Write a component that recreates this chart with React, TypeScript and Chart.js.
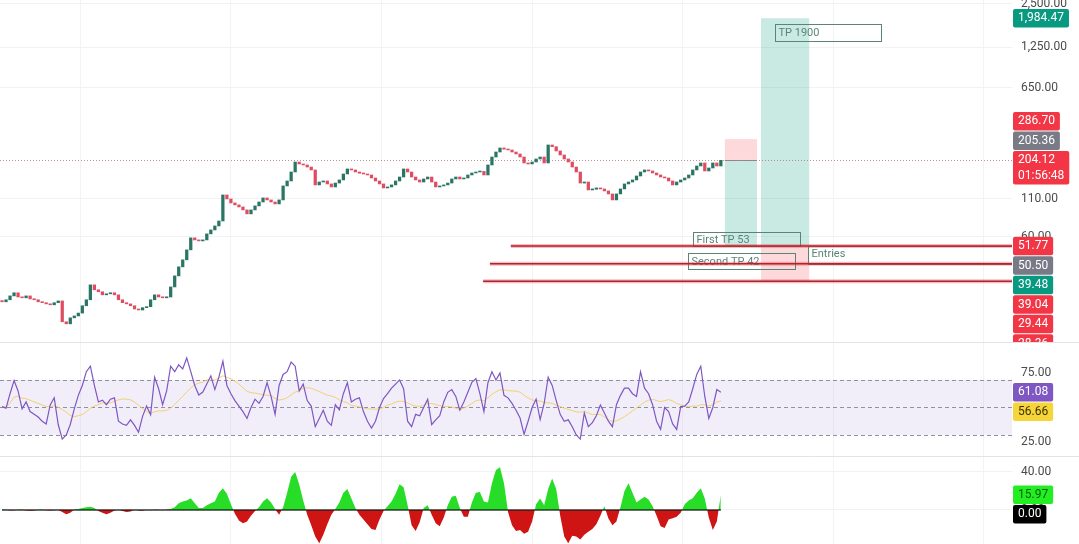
import { useEffect, useRef } from 'react';
import { Chart, registerables } from 'chart.js';

Chart.register(...registerables);

// ---------- data ----------
const firstOpen = 21.6;
const closes = [
  21.2, 21.9, 23.3, 24.5, 22.9, 22.6, 23.3, 22.2, 21.9, 21.2,
  20.9, 20.5, 20.2, 20.9, 21.5, 15.4, 14.9, 16.4, 16.9, 17.7,
  19.9, 21.9, 27.8, 25.7, 24.9, 23.7, 24.1, 24.5, 23.7, 21.9,
  20.9, 20.5, 19.9, 18.9, 18.6, 19.3, 19.6, 21.9, 23.7, 22.9,
  22.6, 22.9, 26.9, 32.1, 37.1, 41.5, 48.7, 59.0, 57.1, 56.2,
  57.1, 62.9, 67.0, 71.4, 77.3, 117.3, 110.0, 103.2, 100.0, 96.8,
  92.3, 86.6, 92.3, 98.4, 104.8, 111.8, 108.3, 104.8, 101.6, 108.3,
  135.5, 146.7, 169.4, 198.7, 192.6, 189.5, 183.4, 175.0, 137.7, 144.3,
  146.7, 139.9, 133.3, 141.9, 149.1, 164.1, 177.8, 175.0, 169.4, 166.0,
  164.1, 161.5, 153.9, 146.7, 139.9, 131.2, 133.3, 137.7, 146.7, 156.3,
  177.8, 169.4, 156.3, 149.1, 144.3, 151.5, 156.3, 144.3, 133.3, 135.5,
  137.7, 141.9, 151.5, 156.3, 151.5, 153.9, 161.5, 166.7, 169.4, 171.0,
  161.5, 189.5, 215.3, 233.3, 248.8, 244.0, 241.0, 233.3, 226.0, 215.3,
  195.7, 192.6, 198.7, 208.6, 215.3, 195.7, 261.0, 254.0, 237.2, 222.4,
  208.6, 198.7, 183.4, 169.4, 141.9, 144.3, 127.1, 128.5, 131.2, 129.1,
  125.1, 119.2, 108.3, 119.2, 129.1, 139.9, 144.3, 149.1, 158.9, 169.4,
  175.0, 172.2, 166.7, 161.5, 156.3, 153.9, 146.7, 137.7, 144.3, 149.1,
  153.9, 161.5, 175.0, 186.5, 195.7, 172.2, 180.6, 195.7, 186.5, 204.12,
];

const rsiValues = [
  50.6, 49.5, 60, 69.5, 62, 49, 54, 47, 45, 43,
  40, 38, 51.8, 57, 37.6, 27, 30, 37.6, 49, 58.8,
  66, 76, 80, 66, 54, 55.3, 52, 56, 57, 40,
  38, 37, 41, 37, 32, 43.5, 51, 44.7, 72, 63.6,
  52, 62, 80, 76, 81, 78, 86, 76, 66, 59,
  61.2, 67, 73, 63, 72, 83.6, 66, 60, 55, 51,
  47, 42, 50, 56, 53, 58, 68, 58, 45, 66,
  74, 76, 83, 80, 62, 67, 55, 51, 36, 42,
  48, 40, 37, 52, 48.2, 60, 68, 54, 56, 57,
  47, 40, 35, 40, 50, 56.5, 60, 64, 67, 70,
  63.6, 40, 36, 45, 44, 50, 56, 37.6, 41, 44,
  54, 61, 63, 58, 48, 54, 61, 68.3, 71, 60,
  47, 68, 76, 70, 75, 58.8, 57, 53, 48, 42.3,
  30.5, 40, 50, 56, 41.2, 52.9, 72, 66, 55, 45,
  40, 41, 36, 30, 27, 46, 36, 39, 44, 51.8,
  46, 40, 36, 52, 58.8, 64, 64, 60, 58, 76,
  64, 60, 52, 40, 34.1, 50, 47, 38, 34, 50.6,
  51, 54, 63.6, 74, 80, 58, 42, 50, 63, 61.08,
];
const rsiMaLength = 14;

const histValues = [
  0.5, 0.3, -0.5, -0.4, 0.3, 0.5, -0.6, -0.8, -0.5, 0.2,
  0.4, -0.3, -0.6, -0.4, 0.2, -2, -4.5, -3, 0.5, 1,
  2, 3, 3.5, 2, -1, -3, -4.5, -3, -0.5, 0.3,
  -1, -2, -1.5, 0.3, -0.5, -0.7, 0.3, -0.4, 0.5, 0.3,
  -0.3, 0.4, 1, 3, 7, 9, 10, 12.3, 7, 2,
  2, 5, 7, 9, 18, 22.8, 17, 6, -4, -11,
  -14, -12, -6, -1, 3, 9, 12.3, 8, 1, -5,
  3, 18, 35, 40, 27, 10, -5, -16, -28, -35,
  -26, -15, -5, 1, 8, 18, 22, 12, 2, -5,
  -10, -15, -20, -21, -10, -1, 4, 9, 17, 27,
  24, 5, -16, -22, -13, 2, 5, -5, -14, -17,
  -8, 5, 14, 15, 2, -7, -7, 8, 18, 19,
  9, 8, 28, 42, 45, 28, -2, -16, -22, -21,
  -25, -23, -12, 6, 12, 5, 22, 33, 22, -6,
  -28, -35, -27, -28, -31, -26, -22.8, -20, -15, -6,
  4, -9, -16, -12, 3, 20, 28, 18, 8, 11,
  14, 11, 4, -6, -17, -19, -10, -8.8, -7, -3,
  6, 10, 12.3, 18, 22.8, 12, -8, -21, -12, 15.97,
];

const priceTicks = [60, 110, 650, 1250, 2500];
const rsiTicks = [25, 75];
const histTicks = [0, 40];
const rsiLevels = [70, 50, 30];
const gridBars = [19.5, 57, 94.5, 132, 169.5, 207, 244.5];
const lastPrice = 204.12;

const shortPosition = { from: 180, to: 188, entry: 205.36, stop: 286.7, target: 51.77 };
const longPosition = { from: 189, to: 201, entry: 51.77, stop: 29.44, target: 1984.47 };
const levelLines = [
  { value: 51.77, from: 126.7 },
  { value: 39.04, from: 121.5 },
  { value: 29.44, from: 119.8 },
];
const noteBoxes = [
  { text: 'TP 1900', from: 192.5, to: 219, top: 1810, bottom: 1378 },
  { text: 'First TP 53', from: 172.1, to: 198.8, top: 65, bottom: 51.77 },
  { text: 'Second TP 42', from: 170.7, to: 197.4, top: 46.3, bottom: 35.9 },
];
const entriesBox = { text: 'Entries', from: 200.6, top: 51.77, bottom: 39.04 };

type AxisLabel = { value: number; lines: string[]; bg: string; fg: string; dir: 'up' | 'down' | 'none' };
const RED = '#f23645';
const GRAY = '#787b86';
const TEAL = '#089981';
const priceAxisLabels: AxisLabel[] = [
  { value: 204.12, lines: ['204.12', '01:56:48'], bg: RED, fg: '#fff', dir: 'none' },
  { value: 205.36, lines: ['205.36'], bg: GRAY, fg: '#fff', dir: 'up' },
  { value: 286.7, lines: ['286.70'], bg: RED, fg: '#fff', dir: 'up' },
  { value: 1984.47, lines: ['1,984.47'], bg: TEAL, fg: '#fff', dir: 'none' },
  { value: 51.77, lines: ['51.77'], bg: RED, fg: '#fff', dir: 'none' },
  { value: 50.5, lines: ['50.50'], bg: GRAY, fg: '#fff', dir: 'down' },
  { value: 39.48, lines: ['39.48'], bg: TEAL, fg: '#fff', dir: 'down' },
  { value: 39.04, lines: ['39.04'], bg: RED, fg: '#fff', dir: 'down' },
  { value: 29.44, lines: ['29.44'], bg: RED, fg: '#fff', dir: 'down' },
  { value: 28.36, lines: ['28.36'], bg: RED, fg: '#fff', dir: 'down' },
];
const rsiAxisLabels: AxisLabel[] = [
  { value: 61.08, lines: ['61.08'], bg: '#7e57c2', fg: '#fff', dir: 'none' },
  { value: 56.66, lines: ['56.66'], bg: '#f5d53a', fg: '#3b3200', dir: 'down' },
];
const histAxisLabels: AxisLabel[] = [
  { value: 15.97, lines: ['15.97'], bg: '#22ee22', fg: '#0b5e0b', dir: 'none' },
  { value: 0, lines: ['0.00'], bg: '#000', fg: '#fff', dir: 'down' },
];

// ---------- styles ----------
const UP = '#2a7564';
const DOWN = '#de4d62';
const PROFIT = 'rgba(8,153,129,0.22)';
const LOSS = 'rgba(242,54,69,0.19)';
const NOTE = '#5a8576';
const FONT = 'Roboto, "Noto Sans", sans-serif';

const fmt = (v: number) =>
  Number(v).toLocaleString('en-US', { minimumFractionDigits: 2, maximumFractionDigits: 2 });

function drawAxisLabels(ctx: CanvasRenderingContext2D, scale: any, labels: AxisLabel[], canvasW: number) {
  const ROW = 19.5;
  const LINE = 16;
  const placed: { top: number; bottom: number }[] = [];
  ctx.save();
  ctx.beginPath();
  ctx.rect(scale.left, scale.top, canvasW - scale.left, scale.bottom - scale.top);
  ctx.clip();
  ctx.font = '12px ' + FONT;
  ctx.textBaseline = 'middle';
  ctx.textAlign = 'left';
  for (const lb of labels) {
    const h = ROW + (lb.lines.length - 1) * LINE - (lb.lines.length > 1 ? 1 : 0);
    const yc = scale.getPixelForValue(lb.value);
    let top = yc - ROW / 2;
    let bottom = top + h;
    let guard = 0;
    let moved = true;
    while (moved && lb.dir !== 'none' && guard < 50) {
      moved = false;
      guard++;
      for (const p of placed) {
        if (top < p.bottom - 0.01 && bottom > p.top + 0.01) {
          if (lb.dir === 'up') {
            bottom = p.top;
            top = bottom - h;
          } else {
            top = p.bottom;
            bottom = top + h;
          }
          moved = true;
        }
      }
    }
    placed.push({ top, bottom });
    const w = Math.max(...lb.lines.map((t) => ctx.measureText(t).width)) + 10;
    const x = scale.left + 1;
    ctx.fillStyle = lb.bg;
    ctx.beginPath();
    (ctx as any).roundRect ? (ctx as any).roundRect(x, top + 0.5, w, h - 1, 2) : ctx.rect(x, top + 0.5, w, h - 1);
    ctx.fill();
    ctx.fillStyle = lb.fg;
    lb.lines.forEach((t, k) => ctx.fillText(t, x + 5, top + ROW / 2 + k * LINE));
  }
  ctx.restore();
}

const overlayPlugin = {
  id: 'tvOverlay',
  beforeDatasetsDraw(chart: any) {
    const { ctx, chartArea: ca, scales } = chart;
    const xs = scales.x;
    const yP = scales.yP;
    const yR = scales.yR;
    const px = (v: number) => xs.getPixelForValue(v);
    const py = (v: number) => yP.getPixelForValue(v);
    ctx.save();

    // RSI band and levels
    const y70 = yR.getPixelForValue(rsiLevels[0]);
    const y30 = yR.getPixelForValue(rsiLevels[2]);
    ctx.fillStyle = 'rgba(126,87,194,0.10)';
    ctx.fillRect(ca.left, y70, ca.right - ca.left, y30 - y70);
    ctx.strokeStyle = '#8f929c';
    ctx.lineWidth = 1;
    ctx.setLineDash([4, 3]);
    for (const lv of rsiLevels) {
      const y = Math.round(yR.getPixelForValue(lv)) + 0.5;
      ctx.beginPath();
      ctx.moveTo(ca.left, y);
      ctx.lineTo(ca.right, y);
      ctx.stroke();
    }
    ctx.setLineDash([]);

    // price pane drawings
    ctx.beginPath();
    ctx.rect(ca.left, yP.top, ca.right - ca.left, yP.bottom - yP.top);
    ctx.clip();

    const zone = (from: number, to: number, a: number, b: number, color: string) => {
      const x1 = px(from);
      const x2 = px(to);
      const y1 = py(a);
      const y2 = py(b);
      ctx.fillStyle = color;
      ctx.fillRect(x1, Math.min(y1, y2), x2 - x1, Math.abs(y2 - y1));
    };
    zone(shortPosition.from, shortPosition.to, shortPosition.stop, shortPosition.entry, LOSS);
    zone(shortPosition.from, shortPosition.to, shortPosition.entry, shortPosition.target, PROFIT);
    zone(longPosition.from, longPosition.to, longPosition.target, longPosition.entry, PROFIT);
    zone(longPosition.from, longPosition.to, longPosition.entry, longPosition.stop, LOSS);

    // short entry line
    ctx.strokeStyle = '#8a8d96';
    ctx.lineWidth = 1;
    let ye = Math.round(py(shortPosition.entry)) + 0.5;
    ctx.beginPath();
    ctx.moveTo(px(shortPosition.from), ye);
    ctx.lineTo(px(shortPosition.to), ye);
    ctx.stroke();

    // last price dotted line
    ctx.strokeStyle = 'rgba(170,110,115,0.75)';
    ctx.setLineDash([1, 2]);
    ye = Math.round(py(lastPrice)) + 0.5;
    ctx.beginPath();
    ctx.moveTo(ca.left, ye);
    ctx.lineTo(ca.right, ye);
    ctx.stroke();
    ctx.setLineDash([]);

    // note boxes
    ctx.font = '11px ' + FONT;
    ctx.textBaseline = 'middle';
    ctx.textAlign = 'left';
    for (const nb of noteBoxes) {
      const x1 = Math.round(px(nb.from)) + 0.5;
      const x2 = Math.round(px(nb.to)) + 0.5;
      const y1 = Math.round(py(nb.top)) + 0.5;
      const y2 = Math.round(py(nb.bottom)) + 0.5;
      ctx.strokeStyle = NOTE;
      ctx.strokeRect(x1, y1, x2 - x1, y2 - y1);
      ctx.fillStyle = NOTE;
      ctx.fillText(nb.text, x1 + 3, (y1 + y2) / 2 + 0.5);
    }
    {
      const x1 = Math.round(px(entriesBox.from)) + 0.5;
      const y1 = Math.round(py(entriesBox.top)) + 0.5;
      const y2 = Math.round(py(entriesBox.bottom)) + 0.5;
      ctx.strokeStyle = NOTE;
      ctx.beginPath();
      ctx.moveTo(ca.right, y1);
      ctx.lineTo(x1, y1);
      ctx.lineTo(x1, y2);
      ctx.lineTo(ca.right, y2);
      ctx.stroke();
      ctx.fillStyle = NOTE;
      ctx.fillText(entriesBox.text, x1 + 3, (y1 + y2) / 2 - 1);
    }

    // red level lines
    for (const ll of levelLines) {
      const y = py(ll.value);
      ctx.strokeStyle = 'rgba(242,54,69,0.35)';
      ctx.lineWidth = 4;
      ctx.beginPath();
      ctx.moveTo(px(ll.from), y);
      ctx.lineTo(ca.right, y);
      ctx.stroke();
      ctx.strokeStyle = '#a8282e';
      ctx.lineWidth = 1.5;
      ctx.beginPath();
      ctx.moveTo(px(ll.from), y);
      ctx.lineTo(ca.right, y);
      ctx.stroke();
    }
    ctx.restore();
  },
  afterDatasetsDraw(chart: any) {
    const { ctx, scales } = chart;
    const xs = scales.x;
    const yH = scales.yH;
    const y0 = yH.getPixelForValue(0);
    ctx.save();
    ctx.strokeStyle = 'rgba(25,25,25,0.85)';
    ctx.lineWidth = 1.6;
    ctx.beginPath();
    ctx.moveTo(xs.getPixelForValue(0), y0);
    ctx.lineTo(xs.getPixelForValue(histValues.length - 1), y0);
    ctx.stroke();
    ctx.restore();
  },
  afterDraw(chart: any) {
    const { ctx, scales, width } = chart;
    ctx.save();
    ctx.strokeStyle = '#e2e3e8';
    ctx.lineWidth = 1;
    for (const s of [scales.yR, scales.yH]) {
      const y = Math.round(s.top) + 0.5;
      ctx.beginPath();
      ctx.moveTo(0, y);
      ctx.lineTo(width, y);
      ctx.stroke();
    }
    ctx.restore();
    drawAxisLabels(ctx, scales.yP, priceAxisLabels, width);
    drawAxisLabels(ctx, scales.yR, rsiAxisLabels, width);
    drawAxisLabels(ctx, scales.yH, histAxisLabels, width);
  },
};

export default function App() {
  const ref = useRef<HTMLCanvasElement | null>(null);

  useEffect(() => {
    document.body.style.margin = '0';
    if (!ref.current) return;
    Chart.defaults.font.family = FONT;

    const opens = closes.map((c, i) => (i === 0 ? firstOpen : closes[i - 1]));
    const rsiMa = rsiValues.map((_, i) => {
      const w = rsiValues.slice(Math.max(0, i - rsiMaLength + 1), i + 1);
      return w.reduce((a, b) => a + b, 0) / w.length;
    });

    const fitY = (s: any) => {
      s.width = 67;
      s.paddingTop = 0;
      s.paddingBottom = 0;
    };
    const tickFont = { size: 12, family: FONT };

    const chart = new Chart(ref.current, {
      type: 'bar',
      data: {
        datasets: [
          {
            type: 'bar',
            data: closes.map((c, i) => ({ x: i, y: [opens[i], c] })) as any,
            backgroundColor: closes.map((c, i) => (c >= opens[i] ? UP : DOWN)),
            borderWidth: 0,
            barThickness: 2.6,
            minBarLength: 1,
            grouped: false,
            xAxisID: 'x',
            yAxisID: 'yP',
          } as any,
          {
            type: 'line',
            data: rsiValues.map((v, i) => ({ x: i, y: v })),
            borderColor: '#7e57c2',
            borderWidth: 1.2,
            pointRadius: 0,
            tension: 0,
            xAxisID: 'x',
            yAxisID: 'yR',
          } as any,
          {
            type: 'line',
            data: rsiMa.map((v, i) => ({ x: i, y: v })),
            borderColor: 'rgba(240,205,100,0.9)',
            borderWidth: 1,
            pointRadius: 0,
            tension: 0,
            xAxisID: 'x',
            yAxisID: 'yR',
          } as any,
          {
            type: 'line',
            data: histValues.map((v, i) => ({ x: i, y: v })),
            borderColor: 'transparent',
            borderWidth: 0,
            pointRadius: 0,
            tension: 0,
            fill: { target: 'origin', above: '#27dd27', below: '#cf1414' },
            xAxisID: 'x',
            yAxisID: 'yH',
          } as any,
        ],
      },
      options: {
        responsive: false,
        animation: false,
        layout: { padding: 0 },
        plugins: { legend: { display: false }, tooltip: { enabled: false } },
        scales: {
          x: {
            type: 'linear',
            min: -0.5,
            max: 251.5,
            offset: false,
            bounds: 'data',
            position: 'bottom',
            ticks: { display: false },
            grid: { color: '#f3f3f5', drawTicks: false, offset: false },
            border: { display: false },
            afterBuildTicks: (s: any) => {
              s.ticks = gridBars.map((v) => ({ value: v }));
            },
            afterFit: (s: any) => {
              s.height = 0;
              s.paddingLeft = 0;
              s.paddingRight = 0;
            },
          } as any,
          yP: {
            type: 'logarithmic',
            position: 'right',
            stack: 'panes',
            stackWeight: 342,
            min: 11.14,
            max: 2658,
            bounds: 'data',
            afterBuildTicks: (s: any) => {
              s.ticks = priceTicks.map((v) => ({ value: v }));
            },
            ticks: { callback: (v: any) => fmt(v), color: '#4a4a4a', font: tickFont, padding: 9, autoSkip: false },
            grid: { color: '#f2f2f4', drawTicks: false },
            border: { display: false },
            afterFit: fitY,
          } as any,
          yR: {
            type: 'linear',
            position: 'right',
            stack: 'panes',
            stackWeight: 114,
            min: 14.7,
            max: 97.6,
            bounds: 'data',
            afterBuildTicks: (s: any) => {
              s.ticks = rsiTicks.map((v) => ({ value: v }));
            },
            ticks: { callback: (v: any) => fmt(v), color: '#4a4a4a', font: tickFont, padding: 9, autoSkip: false },
            grid: { color: 'rgba(0,0,0,0)', drawTicks: false },
            border: { display: false },
            afterFit: fitY,
          } as any,
          yH: {
            type: 'linear',
            position: 'right',
            stack: 'panes',
            stackWeight: 88,
            min: -35.8,
            max: 56.8,
            bounds: 'data',
            afterBuildTicks: (s: any) => {
              s.ticks = histTicks.map((v) => ({ value: v }));
            },
            ticks: { callback: (v: any) => fmt(v), color: '#4a4a4a', font: tickFont, padding: 9, autoSkip: false },
            grid: { color: '#f2f2f4', drawTicks: false },
            border: { display: false },
            afterFit: fitY,
          } as any,
        },
      } as any,
      plugins: [overlayPlugin],
    });

    return () => chart.destroy();
  }, []);

  return (
    <div style={{ width: 1079, height: 544, background: '#fff' }}>
      <canvas ref={ref} width={1079} height={544} style={{ display: 'block' }} />
    </div>
  );
}
